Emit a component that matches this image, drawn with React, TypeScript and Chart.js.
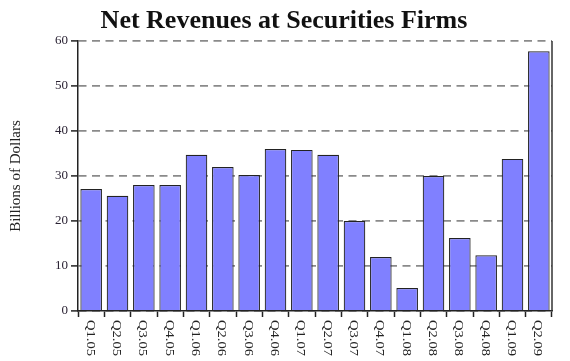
import React, { useEffect, useRef } from "react";
import { Chart, registerables } from "chart.js";

Chart.register(...registerables);

const categories = [
  "Q1.05", "Q2.05", "Q3.05", "Q4.05",
  "Q1.06", "Q2.06", "Q3.06", "Q4.06",
  "Q1.07", "Q2.07", "Q3.07", "Q4.07",
  "Q1.08", "Q2.08", "Q3.08", "Q4.08",
  "Q1.09", "Q2.09",
];
const revenues = [
  27.1, 25.6, 28.0, 28.0,
  34.7, 32.0, 30.2, 36.0,
  35.8, 34.7, 20.0, 12.0,
  5.1, 30.0, 16.2, 12.4,
  33.8, 57.7,
];
const yTicks = [0, 10, 20, 30, 40, 50, 60];
const titleText = "Net Revenues at Securities Firms";
const yTitle = "Billions of Dollars";

const SERIF = "'Liberation Serif', 'DejaVu Serif', serif";

const customPlugin = {
  id: "customDecor",
  afterDatasetsDraw(chart: any) {
    const { ctx, chartArea } = chart;
    ctx.save();
    ctx.strokeStyle = "#333";
    ctx.lineWidth = 1.5;
    ctx.beginPath();
    ctx.moveTo(chartArea.right, chartArea.top);
    ctx.lineTo(chartArea.right, chartArea.bottom);
    ctx.stroke();
    ctx.restore();
  },
  afterDraw(chart: any) {
    const { ctx } = chart;
    const xs = chart.scales.x;
    ctx.save();
    ctx.fillStyle = "#111";
    ctx.font = `bold 26px ${SERIF}`;
    ctx.textAlign = "center";
    ctx.textBaseline = "alphabetic";
    ctx.fillText(titleText, 284, 28);
    ctx.restore();

    ctx.save();
    ctx.fillStyle = "#222";
    ctx.font = `13px ${SERIF}`;
    ctx.textAlign = "left";
    ctx.textBaseline = "middle";
    categories.forEach((lab, i) => {
      const x = xs.getPixelForTick(i);
      ctx.save();
      ctx.translate(x - 1, xs.top + 9);
      ctx.rotate(Math.PI / 2);
      ctx.scale(1.12, 1);
      ctx.fillText(lab, 0, 0);
      ctx.restore();
    });
    ctx.restore();
  },
};

export default function App() {
  const ref = useRef<HTMLCanvasElement | null>(null);
  useEffect(() => {
    if (!ref.current) return;
    const chart = new Chart(ref.current, {
      type: "bar",
      data: {
        labels: categories,
        datasets: [
          {
            data: revenues,
            backgroundColor: "#8080ff",
            borderColor: "#222",
            borderWidth: 1.2,
            barPercentage: 0.82,
            categoryPercentage: 1,
          },
        ],
      },
      options: {
        responsive: false,
        animation: false,
        layout: { padding: { left: 0, right: 18, top: 41, bottom: 0 } },
        plugins: {
          legend: { display: false },
          tooltip: { enabled: false },
          title: { display: false },
        },
        scales: {
          x: {
            type: "category",
            grid: {
              display: true,
              drawOnChartArea: false,
              drawTicks: true,
              tickLength: 6,
              tickColor: "#222",
              tickWidth: 1.5,
            },
            border: { display: true, color: "#222", width: 1.5 },
            ticks: { display: false },
            afterFit(scale: any) {
              scale.height = 50;
            },
          },
          y: {
            min: 0,
            max: 60,
            afterBuildTicks(scale: any) {
              scale.ticks = yTicks.map((v) => ({ value: v }));
            },
            grid: {
              color: "#8a8a8a",
              lineWidth: 1.8,
              drawTicks: true,
              tickLength: 7,
              tickColor: "#222",
              tickWidth: 1.5,
              tickBorderDash: [],
            },
            border: { display: true, color: "#222", width: 1.5, dash: [8, 5.5] },
            ticks: {
              color: "#2a2233",
              padding: 3,
              font: { family: SERIF, size: 13 },
            },
            title: {
              display: true,
              text: yTitle,
              color: "#222",
              font: { family: SERIF, size: 15 },
              padding: { top: 7, bottom: 0 },
            },
            afterFit(scale: any) {
              scale.width = 78;
            },
          },
        },
      },
      plugins: [customPlugin],
    });
    return () => chart.destroy();
  }, []);
  return (
    <div style={{ position: "fixed", left: 0, top: 0, width: 570, height: 361, background: "#fff" }}>
      <canvas ref={ref} width={570} height={361} />
    </div>
  );
}
